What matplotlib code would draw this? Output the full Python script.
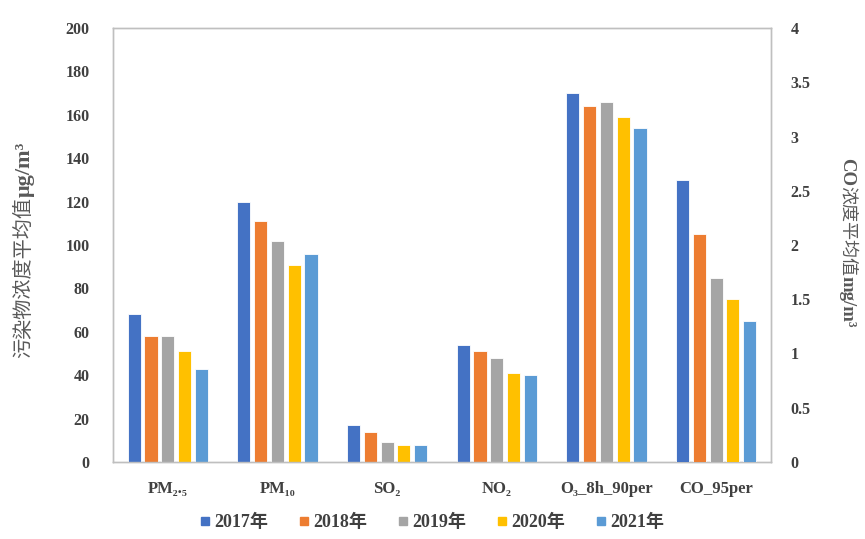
import matplotlib
matplotlib.use("Agg")
import matplotlib.pyplot as plt
from matplotlib.lines import Line2D
import numpy as np

plt.rcParams['font.family'] = ['Liberation Serif', 'Noto Sans CJK SC', 'DejaVu Serif']

# pollutant categories, the last one goes on the right axis (mg/m3)
categories = ['PM₂.₅', 'PM₁₀', 'SO₂', 'NO₂', 'O₃_8h_90per', 'CO_95per']
years = ['2017年', '2018年', '2019年', '2020年', '2021年']
colors = ['#4472C4', '#ED7D31', '#A5A5A5', '#FFC000', '#5B9BD5']

# ug/m3 values for the first five categories, per year
pm25 = [68, 58, 58, 51, 43]
pm10 = [120, 111, 102, 91, 96]
so2 = [17, 14, 9, 8, 8]
no2 = [54, 51, 48, 41, 40]
o3 = [170, 164, 166, 159, 154]
# mg/m3
co = [2.6, 2.1, 1.7, 1.5, 1.3]

left_data = np.array([pm25, pm10, so2, no2, o3])

fig = plt.figure(figsize=(8.65, 5.39), dpi=100)
ax = fig.add_axes([0.1306, 0.1429, 0.7607, 0.8051])
ax2 = ax.twinx()

width = 0.12
step = 0.153
x = np.arange(len(categories)) + 0.5
for i, yr in enumerate(years):
    off = (i - 2) * step
    ax.bar(x[:5] + off, left_data[:, i], width, color=colors[i],
           edgecolor='white', linewidth=0.6, zorder=3)
    ax2.bar(x[5] + off, co[i], width, color=colors[i],
            edgecolor='white', linewidth=0.6, zorder=3)

ax.set_xlim(0, 6)
ax.set_ylim(0, 200)
ax.set_yticks(range(0, 201, 20))
ax2.set_ylim(0, 4)
ax2.set_yticks(np.arange(0, 4.01, 0.5))
ax2.set_yticklabels(['0', '0.5', '1', '1.5', '2', '2.5', '3', '3.5', '4'])

ax.set_xticks(x)
ax.set_xticklabels(categories)

tick_color = '#404040'
for a in (ax, ax2):
    a.tick_params(length=0, labelsize=11.5, labelcolor=tick_color)
    for lab in a.get_xticklabels() + a.get_yticklabels():
        lab.set_fontweight('bold')
    for s in a.spines.values():
        s.set_color('#BFBFBF')
        s.set_linewidth(1.0)
ax.tick_params(axis='y', pad=17)
ax.tick_params(axis='x', pad=14, labelsize=12)
ax2.tick_params(axis='y', pad=14)

# axis titles: Chinese part normal, units bold -> chained text pieces
lab_color = '#595959'
t1 = fig.text(25 / 865, 1 - 358 / 539, '污染物浓度平均值', rotation=90,
              ha='center', va='bottom', fontsize=14.5, color=lab_color)
ax.annotate('μg/m³', xy=(0.5, 1), xycoords=t1, rotation=90, ha='center',
            va='bottom', fontsize=16, fontweight='bold', color=lab_color)

r1 = fig.text(847 / 865, 1 - 158 / 539, 'CO', rotation=270, ha='center',
              va='top', fontsize=13.5, fontweight='bold', color=lab_color)
r2 = ax.annotate('浓度平均值', xy=(0.5, 0), xycoords=r1, rotation=270,
                 ha='center', va='top', fontsize=13, color=lab_color)
ax.annotate('mg/m³', xy=(0.5, 0), xycoords=r2, rotation=270, ha='center',
            va='top', fontsize=13.5, fontweight='bold', color=lab_color)

handles = [Line2D([], [], marker='s', linestyle='none', markersize=6,
                  color=c) for c in colors]
leg = fig.legend(handles, years, loc='center', bbox_to_anchor=(0.5, 0.03),
                 ncol=5, frameon=False, handlelength=0.5, handletextpad=0.25,
                 columnspacing=1.75, prop={'size': 13, 'weight': 'bold'})
for t in leg.get_texts():
    t.set_color(tick_color)

fig.savefig('out.png', dpi=100)
